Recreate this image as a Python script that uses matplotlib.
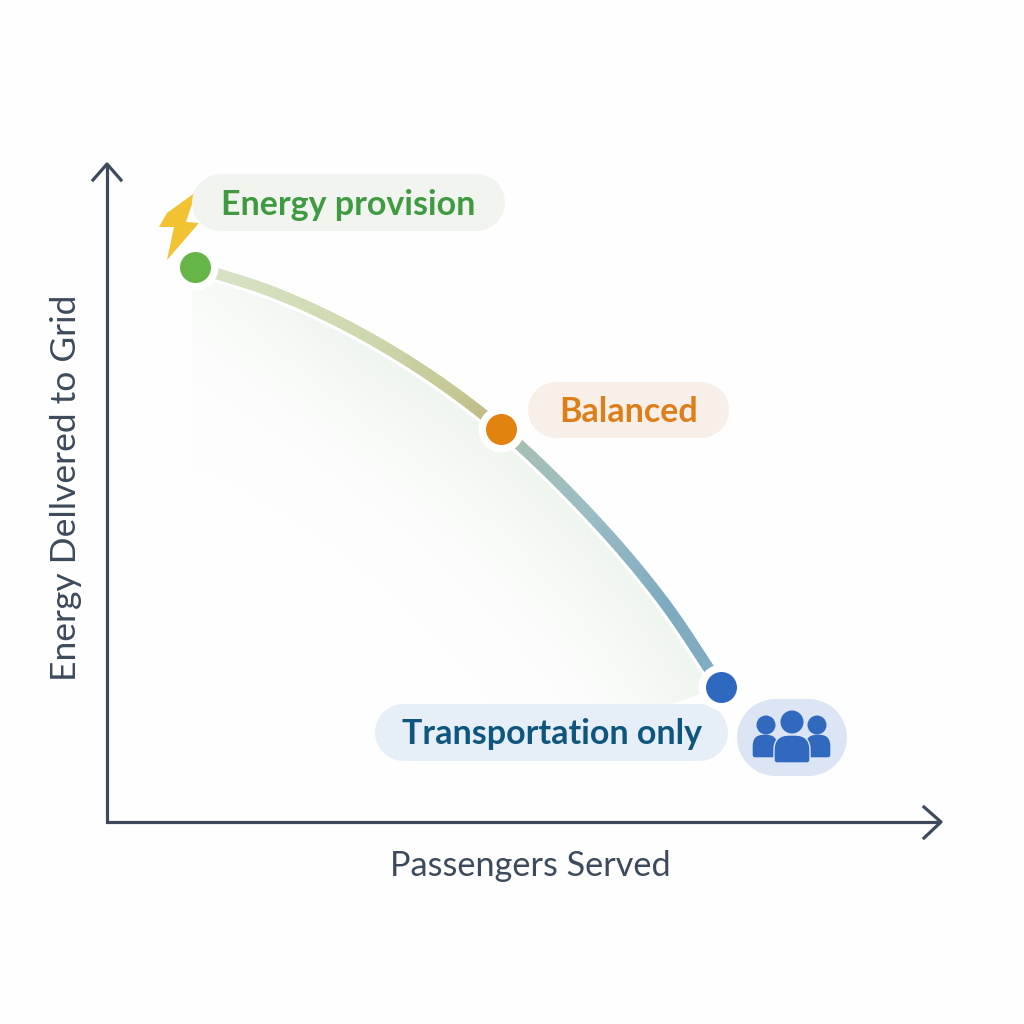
import numpy as np
import matplotlib
matplotlib.use("Agg")
import matplotlib.pyplot as plt
from matplotlib.collections import LineCollection
from matplotlib.colors import LinearSegmentedColormap, to_rgb
from matplotlib.patches import Polygon, Circle, PathPatch
from matplotlib.path import Path

# (pixel-like chart units)
curve_x = [195, 270, 390, 501, 573, 663, 721]
curve_y = [267, 291, 350, 429, 497, 601, 687]
points_x = [195, 501, 721]
points_y = [267, 429, 687]
point_colors = ["#66b548", "#e2830f", "#2f69bf"]
labels = ["Energy provision", "Balanced", "Transportation only"]
label_colors = ["#409a42", "#dc7f1a", "#0f567f"]
pill_colors = ["#f2f5ef", "#f9efe9", "#e6eef8"]
pill_boxes = [(192, 174, 505, 231), (528, 382, 729, 438), (375, 704, 728, 761)]
label_xy = [(348, 202), (629, 409), (552, 731)]
x_title = "Passengers Served"
y_title = "Energy Dellvered to Grid"
axis_color = "#3c4a5b"
stroke_stops = [(0.0, "#d8e4c8"), (0.30, "#cfdab2"), (0.50, "#c6c795"), (0.55, "#bfbd88"),
                (0.62, "#a7bfb5"), (0.75, "#9bbdc4"), (0.90, "#7fabc0"), (1.0, "#80adc3")]

plt.rcParams["font.family"] = ["Lato", "DejaVu Sans"]
fig = plt.figure(figsize=(10.24, 10.24), dpi=100, facecolor="#fefefe")
ax = fig.add_axes([0, 0, 1, 1])


def smooth(xs, ys, n=24):
    """Hermite pass through the read points, only to round the drawn line."""
    p = np.column_stack([xs, ys]).astype(float)
    s = np.r_[0, np.cumsum(np.hypot(*np.diff(p, axis=0).T))]
    m = np.gradient(p, s, axis=0)
    out = []
    for i in range(len(p) - 1):
        h = s[i + 1] - s[i]
        u = np.linspace(0, 1, n, endpoint=False)[:, None]
        out.append((2*u**3 - 3*u**2 + 1) * p[i] + (u**3 - 2*u**2 + u) * h * m[i]
                   + (-2*u**3 + 3*u**2) * p[i + 1] + (u**3 - u**2) * h * m[i + 1])
    out.append(p[-1:])
    return np.vstack(out)


line = smooth(curve_x, curve_y)
tang = np.gradient(line, axis=0)
tang /= np.hypot(*tang.T)[:, None]
normal = np.column_stack([-tang[:, 1], tang[:, 0]])  # points to the lower left on screen

# soft fill under the curve
gx, gy = np.meshgrid(np.arange(180, 730), np.arange(260, 720))
d = np.min(np.hypot(gx[..., None] - line[::3, 0], gy[..., None] - line[::3, 1]), axis=-1)
alpha = np.clip(1 - d / 210.0, 0, 1) ** 2.0 * np.clip((gx - 60) / 300.0, 0.45, 1) * 1.1
rgba = np.zeros(gx.shape + (4,))
rgba[..., :3] = to_rgb("#eff5ef")
rgba[..., 3] = np.clip(alpha, 0, 1)
im = ax.imshow(rgba, extent=(180, 730, 720, 260), zorder=1, interpolation="bilinear", aspect="auto")
poly = list(zip(line[:, 0], line[:, 1])) + [(665, 706), (192, 706), (192, 267)]
clip = Polygon(poly, closed=True, transform=ax.transData, fc="none", ec="none")
ax.add_patch(clip)
im.set_clip_path(clip)

# white edge under the stroke, then the stroke with its colour run
edge = line + normal * 7
ax.plot(edge[:, 0], edge[:, 1], color="white", lw=2.6, zorder=2, solid_capstyle="butt")
cmap = LinearSegmentedColormap.from_list("stroke", stroke_stops)
pts = line.reshape(-1, 1, 2)
segs = np.concatenate([pts[:-1], pts[1:]], axis=1)
t = (line[:-1, 0] - line[0, 0]) / (line[-1, 0] - line[0, 0])
ax.add_collection(LineCollection(segs, colors=cmap(t), linewidths=8.0, capstyle="round", zorder=3))

# axes with open arrow heads
ax.plot([107, 107, 938], [165, 822, 822], color=axis_color, lw=2.3, zorder=4, solid_joinstyle="miter")
ax.plot([93, 107, 121], [180, 164, 180], color=axis_color, lw=2.3, zorder=4)
ax.plot([924, 941, 924], [807, 822, 838], color=axis_color, lw=2.3, zorder=4)
ax.text(530, 866, x_title, color=axis_color, fontsize=24.7, ha="center", va="center")
ax.text(66, 488, y_title, color=axis_color, fontsize=25.5, ha="center", va="center", rotation=90)

# lightning bolt
bolt = [(196, 192), (167, 213), (159, 227), (174, 227), (167, 260), (199, 223), (186, 222), (196, 192)]
ax.add_patch(Polygon(bolt, closed=True, fc="#f1c232", ec="none", zorder=5))


def pill(x0, y0, x1, y1, c, z=6):
    r = (y1 - y0) / 2
    ax.plot([x0 + r - 0.5, x1 - r - 0.5], [y0 + r - 0.5, y0 + r - 0.5], color=c, lw=2 * r * 0.72,
            solid_capstyle="round", zorder=z)


# label pills
for (x0, y0, x1, y1), c in zip(pill_boxes, pill_colors):
    pill(x0, y0, x1, y1, c)
for s, (x, y), c in zip(labels, label_xy, label_colors):
    ax.text(x, y, s, color=c, fontsize=24.5, fontweight="bold", ha="center", va="center_baseline", zorder=7)

# points with halo
for x, y, c in zip(points_x, points_y, point_colors):
    ax.scatter([x], [y], s=(2 * 23 * 0.72) ** 2, color="white", linewidths=0, zorder=8)
    ax.scatter([x], [y], s=(2 * 15.5 * 0.72) ** 2, color=c, linewidths=0, zorder=9)

# people badge
pill(737, 699, 847, 776, "#dbe5f4")
blue = "#3069bd"


def body(x0, y0, x1, y1, top=10, bot=3, z=8):
    verts = [(x0, y1 - bot), (x0, y0 + top), (x0, y0), (x0 + top, y0), (x1 - top, y0), (x1, y0), (x1, y0 + top),
             (x1, y1 - bot), (x1, y1), (x1 - bot, y1), (x0 + bot, y1), (x0, y1), (x0, y1 - bot)]
    codes = [Path.MOVETO, Path.LINETO, Path.CURVE3, Path.CURVE3, Path.LINETO, Path.CURVE3, Path.CURVE3,
             Path.LINETO, Path.CURVE3, Path.CURVE3, Path.LINETO, Path.CURVE3, Path.CURVE3]
    return PathPatch(Path(verts, codes), fc=blue, ec="#dbe5f4", lw=1.0, zorder=z)


ax.add_patch(body(752, 734, 778, 758, top=12))
ax.add_patch(body(805, 734, 831, 758, top=12))
ax.add_patch(body(774, 735, 810, 763, top=15, z=9))
for x, y, r in [(766, 725, 9.5), (817, 725, 9.5), (792, 722, 11.5)]:
    ax.add_patch(Circle((x, y), r, fc=blue, ec="none", zorder=9))

ax.set_xlim(0, 1024)
ax.set_ylim(1024, 0)
ax.axis("off")
fig.savefig("out.png", dpi=100, facecolor=fig.get_facecolor())
